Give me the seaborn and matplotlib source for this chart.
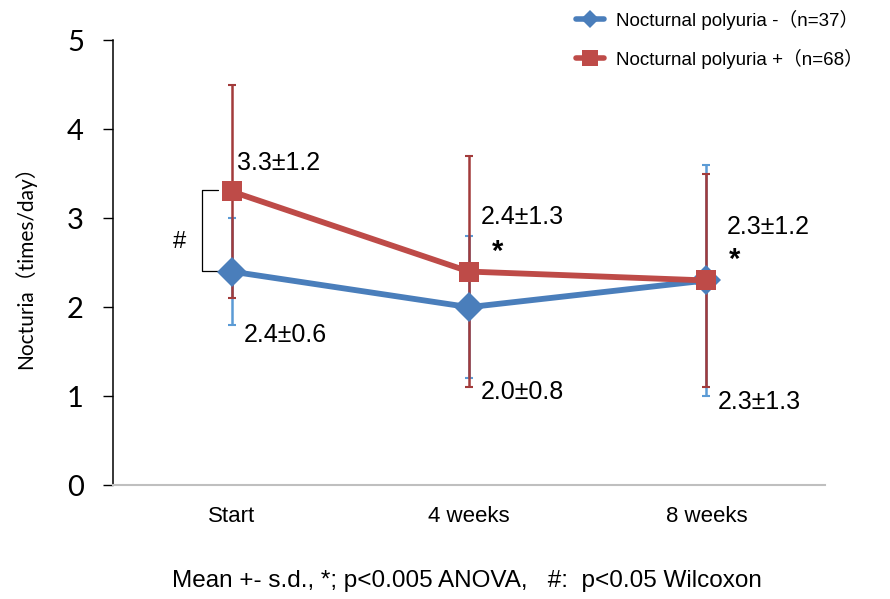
import matplotlib
matplotlib.use("Agg")
import matplotlib.pyplot as plt
import seaborn as sns
import numpy as np
import pandas as pd

# data
timepoints = ["Start", "4 weeks", "8 weeks"]
neg_mean = [2.4, 2.0, 2.3]
neg_sd = [0.6, 0.8, 1.3]
pos_mean = [3.3, 2.4, 2.3]
pos_sd = [1.2, 1.3, 1.2]
neg_label = "Nocturnal polyuria -（n=37）"
pos_label = "Nocturnal polyuria +（n=68）"

blue = "#4A7EBB"
red = "#BE4B48"
blue_err = "#5B9BD5"
red_err = "#A23B3B"

sns.set_style("white")
plt.rcParams['font.family'] = ['Liberation Sans', 'Noto Sans CJK JP']
plt.rcParams['text.color'] = 'black'
plt.rcParams['axes.labelcolor'] = 'black'
plt.rcParams['xtick.color'] = 'black'
plt.rcParams['ytick.color'] = 'black'

df = pd.DataFrame({
    "x": list(range(3)) * 2,
    "mean": neg_mean + pos_mean,
    "sd": neg_sd + pos_sd,
    "group": [neg_label] * 3 + [pos_label] * 3,
})

fig = plt.figure(figsize=(8.9, 5.99), dpi=100)
ax = fig.add_axes([0.127, 0.19, 0.80, 0.743])

# error bars first (thin)
for grp, col in [(neg_label, blue_err), (pos_label, red_err)]:
    sub = df[df.group == grp]
    ax.errorbar(sub.x, sub["mean"], yerr=sub.sd, fmt="none", ecolor=col,
                elinewidth=1.8, capsize=3, capthick=1.5, zorder=2)

sns.lineplot(data=df, x="x", y="mean", hue="group", style="group",
             palette={neg_label: blue, pos_label: red},
             markers={neg_label: "D", pos_label: "s"},
             dashes=False, linewidth=4.2, markersize=15, markeredgewidth=0,
             ax=ax, zorder=3, legend=False)

ax.set_xlim(-0.5, 2.5)
ax.set_ylim(0, 5)
ax.set_xticks(range(3))
ax.set_xticklabels(timepoints, fontsize=16)
ax.set_yticks(range(6))
ax.set_yticklabels([str(i) for i in range(6)], fontsize=21, family=['Lato', 'DejaVu Sans'])
ax.tick_params(axis="y", direction="out", length=7, width=1, pad=14, left=True)
ax.tick_params(axis="x", length=0, pad=15)
ax.set_xlabel("")
ax.set_ylabel("Nocturia（times/day）", fontsize=15, family=['Lato', 'Noto Sans CJK JP'], labelpad=22)
for s in ["top", "right"]:
    ax.spines[s].set_visible(False)
ax.spines["left"].set_color("black")
ax.spines["left"].set_linewidth(1.1)
ax.spines["bottom"].set_color("#BFBFBF")
ax.spines["bottom"].set_linewidth(1.5)

def px(xp, yp):
    return (xp - 232) / 237.0, (485 - yp) / 89.0

labels = [("3.3±1.2", 237, 163), ("2.4±0.6", 244, 335), ("2.4±1.3", 481, 217),
          ("2.0±0.8", 481, 392), ("2.3±1.2", 726, 227), ("2.3±1.3", 717, 402)]
for t, xp, yp in labels:
    x, y = px(xp, yp)
    ax.text(x, y, t, fontsize=18, va="center", ha="left")

for xp, yp in [(497, 252), (734, 260)]:
    x, y = px(xp, yp)
    ax.text(x, y, "*", fontsize=21, fontweight="bold", va="center", ha="center")

# bracket for Wilcoxon
bx0, by0 = px(202, 190)
bx1, by1 = px(218, 271)
ax.plot([bx1, bx0, bx0, bx1], [by0, by0, by1, by1], color="black", lw=0.9, clip_on=False)
hx, hy = px(180, 242)
ax.text(hx, hy, "#", fontsize=17, va="center", ha="center")

# legend drawn with proxy lines in the series colours
h1, = ax.plot([], [], color=blue, marker="D", lw=4, ms=9, mew=0, label=neg_label)
h2, = ax.plot([], [], color=red, marker="s", lw=4, ms=11, mew=0, label=pos_label)
leg = ax.legend(handles=[h1, h2], loc="upper left", bbox_to_anchor=(0.64, 1.085), frameon=False,
                fontsize=13.5, handlelength=1.5, handletextpad=0.6, labelspacing=1.0, borderaxespad=0)

fig.text(0.525, 0.03, "Mean +- s.d., *; p<0.005 ANOVA,   #:  p<0.05 Wilcoxon",
         fontsize=17.5, ha="center", va="center")

fig.savefig("out.png", dpi=100)
